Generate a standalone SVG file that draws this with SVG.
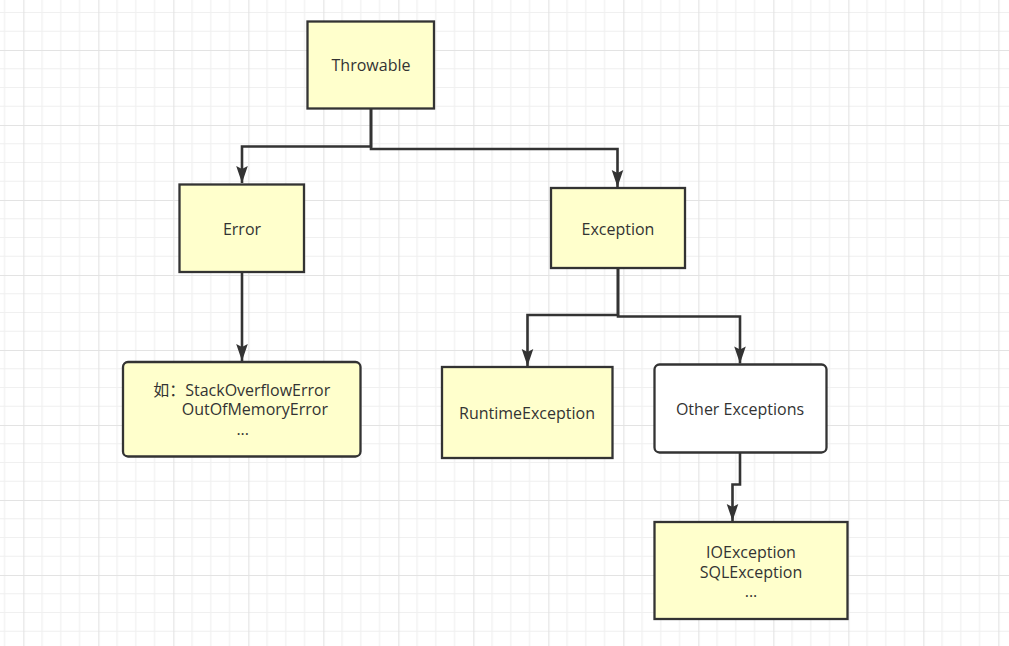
<svg xmlns="http://www.w3.org/2000/svg" width="1009" height="646" viewBox="0 0 1009 646">
<style>
.box{fill:#ffffcc;stroke:#333;stroke-width:2.3}
.wbox{fill:#ffffff;stroke:#333;stroke-width:2.3}
.lbl{font-family:"Open Sans","Noto Sans CJK SC",sans-serif;font-size:16px;fill:#333;text-anchor:middle}
.conn{fill:none;stroke:#333;stroke-width:2.6;marker-end:url(#arr)}
</style>
<defs>
<pattern id="grid" patternUnits="userSpaceOnUse" x="23.33" y="50" width="75" height="75">
<path d="M18.75,0V75M37.5,0V75M56.25,0V75M0,18.75H75M0,37.5H75M0,56.25H75" stroke="#f0f0f0" stroke-width="1.2" fill="none"/>
<path d="M0.5,0V75M0,0.5H75" stroke="#e3e3e3" stroke-width="1.2" fill="none"/>
</pattern>
<marker id="arr" markerUnits="userSpaceOnUse" markerWidth="20" markerHeight="14" viewBox="-18 -7 20 14" refX="0" refY="0" orient="auto">
<path d="M0,0 L-17,-5.8 L-14,0 L-17,5.8 Z" fill="#333"/>
</marker>
</defs>
<rect width="1009" height="646" fill="#ffffff"/>
<rect width="1009" height="646" fill="url(#grid)"/>
<g id="connectors">
<path class="conn" d="M371,109 V146.5 H242 V183"/>
<path class="conn" d="M371,109 V149 H617.5 V187"/>
<path class="conn" d="M242,273 V361"/>
<path class="conn" d="M618,269 V315 H527.5 V366"/>
<path class="conn" d="M618,269 V316.5 H740 V363.5"/>
<path class="conn" d="M740,453 V484.5 H732.5 V521"/>
</g>
<g id="throwable">
<rect class="box" x="307.5" y="21.5" width="126.5" height="87"/>
<text class="lbl" x="371" y="71">Throwable</text>
</g>
<g id="error">
<rect class="box" x="179.5" y="184.5" width="124.5" height="87.5"/>
<text class="lbl" x="242" y="235">Error</text>
</g>
<g id="exception">
<rect class="box" x="551" y="188" width="134" height="80"/>
<text class="lbl" x="618" y="235">Exception</text>
</g>
<g id="error-examples">
<rect class="box" x="123" y="362" width="237.5" height="94.5" rx="5" ry="5"/>
<text class="lbl" x="241.7" y="395.5">如：StackOverflowError</text>
<text class="lbl" x="181.7" y="415" style="text-anchor:start">OutOfMemoryError</text>
<text class="lbl" x="242.7" y="435">...</text>
</g>
<g id="runtime-exception">
<rect class="box" x="442" y="367" width="170.5" height="91"/>
<text class="lbl" x="527" y="419">RuntimeException</text>
</g>
<g id="other-exceptions">
<rect class="wbox" x="654.5" y="364.5" width="172" height="88" rx="5" ry="5"/>
<text class="lbl" x="740" y="415">Other Exceptions</text>
</g>
<g id="checked-examples">
<rect class="box" x="654.5" y="522" width="193" height="97"/>
<text class="lbl" x="751" y="557.5">IOException</text>
<text class="lbl" x="751" y="577.5">SQLException</text>
<text class="lbl" x="751" y="597">...</text>
</g>
</svg>
